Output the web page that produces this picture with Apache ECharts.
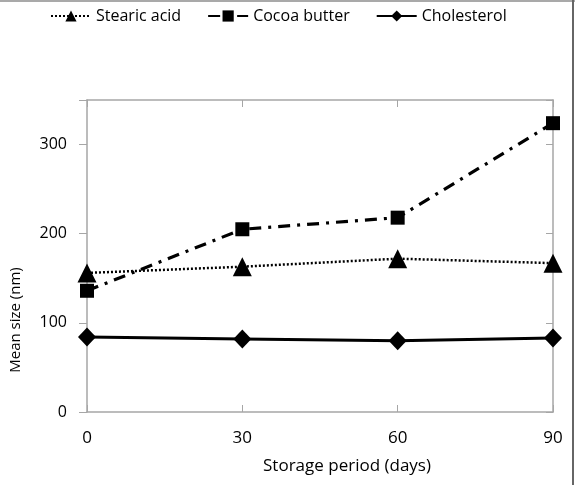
<!DOCTYPE html>
<html>
<head>
<meta charset="utf-8">
<script src="https://cdn.jsdelivr.net/npm/echarts@6/dist/echarts.min.js"></script>
<style>
  html, body { margin: 0; padding: 0; background: #fff; }
  #chart-container { width: 575px; height: 485px; }
</style>
</head>
<body>
<div id="chart-container"></div>
<script>
var dom = document.getElementById("chart-container");
var myChart = echarts.init(dom, null, { renderer: "canvas" });

// storage period (days)
const days = [0, 30, 60, 90];
// mean size (nm)
const stearicAcid = [156, 163, 172, 167];
const cocoaButter = [136, 205, 218, 324];
const cholesterol = [84, 82, 80, 83];

const seriesNames = ["Stearic acid", "Cocoa butter", "Cholesterol"];

const font = "'Open Sans', 'Noto Sans', sans-serif";
const axisGray = "#a6a6a6";

const toPairs = (vals) => vals.map((v, i) => [days[i], v]);

var option = {
  animation: false,
  textStyle: { fontFamily: font, color: "#000" },
  grid: { left: 86, right: 22, top: 100, bottom: 73 },
  legend: {
    data: seriesNames,
    left: 45,
    top: 3,
    itemWidth: 40,
    itemHeight: 14,
    itemGap: 26,
    textStyle: { fontFamily: font, fontSize: 16, color: "#000" }
  },
  xAxis: [
    {
      type: "value",
      min: 0,
      max: 90,
      interval: 30,
      name: "Storage period (days)",
      nameLocation: "middle",
      nameGap: 46,
      nameTextStyle: { fontFamily: font, fontSize: 17, color: "#000", padding: [0, 0, 0, 54] },
      axisLine: { onZero: false, lineStyle: { color: axisGray, width: 1.5 } },
      axisTick: { inside: true, length: 7, lineStyle: { color: axisGray } },
      axisLabel: { margin: 18, fontSize: 17, color: "#000", fontFamily: font },
      splitLine: { show: false }
    },
    {
      type: "value",
      position: "top",
      min: 0,
      max: 90,
      interval: 30,
      axisLine: { show: true, onZero: false, lineStyle: { color: axisGray, width: 1.5 } },
      axisTick: { show: true, inside: true, length: 7, lineStyle: { color: axisGray } },
      axisLabel: { show: false },
      splitLine: { show: false }
    }
  ],
  yAxis: [
    {
      type: "value",
      min: 0,
      max: 350,
      interval: 100,
      name: "Mean size (nm)",
      nameLocation: "middle",
      nameGap: 64,
      nameTextStyle: { fontFamily: font, fontSize: 15, color: "#000", padding: [0, 128, 0, 0] },
      axisLine: { show: true, onZero: false, lineStyle: { color: axisGray, width: 1.5 } },
      axisTick: { show: true, length: 8, lineStyle: { color: axisGray } },
      axisLabel: {
        margin: 20,
        fontSize: 16,
        color: "#000",
        fontFamily: font,
        formatter: (v) => (v % 100 === 0 ? v : "")
      },
      splitLine: { show: false }
    },
    {
      type: "value",
      position: "right",
      min: 0,
      max: 350,
      interval: 100,
      axisLine: { show: true, onZero: false, lineStyle: { color: axisGray, width: 1.5 } },
      axisTick: { show: true, inside: true, length: 7, lineStyle: { color: axisGray } },
      axisLabel: { show: false },
      splitLine: { show: false }
    }
  ],
  series: [
    {
      name: seriesNames[0],
      type: "line",
      data: toPairs(stearicAcid),
      symbol: "triangle",
      symbolSize: 19,
      itemStyle: { color: "#000" },
      lineStyle: { color: "#000", width: 2.5, type: [2, 2] }
    },
    {
      name: seriesNames[1],
      type: "line",
      data: toPairs(cocoaButter),
      symbol: "rect",
      symbolSize: 14,
      itemStyle: { color: "#000" },
      lineStyle: { color: "#000", width: 3.2, type: [12, 7, 3, 7] }
    },
    {
      name: seriesNames[2],
      type: "line",
      data: toPairs(cholesterol),
      symbol: "diamond",
      symbolSize: [18, 19],
      itemStyle: { color: "#000" },
      lineStyle: { color: "#000", width: 3 }
    }
  ],
  graphic: [
    { type: "line", shape: { x1: 0, y1: 1, x2: 575, y2: 1 }, style: { stroke: "#8c8c8c", lineWidth: 1.5 } },
    { type: "line", shape: { x1: 573, y1: 0, x2: 573, y2: 485 }, style: { stroke: "#666", lineWidth: 2 } }
  ]
};

myChart.setOption(option);
window.addEventListener("resize", myChart.resize);
</script>
</body>
</html>
